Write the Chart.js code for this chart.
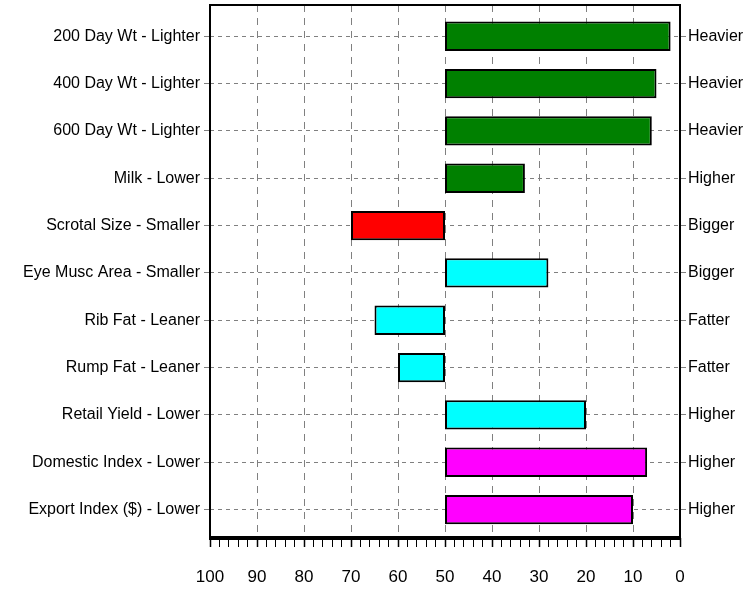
<!DOCTYPE html>
<html>
<head>
<meta charset="utf-8">
<script src="https://cdn.jsdelivr.net/npm/chart.js"></script>
<style>
  html, body { margin: 0; padding: 0; background: #fff; }
  #wrap { width: 753px; height: 593px; }
</style>
</head>
<body>
<div id="wrap"><canvas id="traits"></canvas></div>
<script>
// trait names (left side) and the "good" direction (right side)
const traitLabels = [
  '200 Day Wt - Lighter', '400 Day Wt - Lighter', '600 Day Wt - Lighter',
  'Milk - Lower', 'Scrotal Size - Smaller', 'Eye Musc Area - Smaller',
  'Rib Fat - Leaner', 'Rump Fat - Leaner', 'Retail Yield - Lower',
  'Domestic Index - Lower', 'Export Index ($) - Lower'
];
const directionLabels = [
  'Heavier', 'Heavier', 'Heavier', 'Higher', 'Bigger', 'Bigger',
  'Fatter', 'Fatter', 'Higher', 'Higher', 'Higher'
];
// percentile ranks; every bar starts at the breed average (50)
const barBase = 50;
const percentiles = [2, 5, 6, 33, 70, 28, 65, 60, 20, 7, 10];
const xTicks = [100, 90, 80, 70, 60, 50, 40, 30, 20, 10, 0];

const barColors = ['#008000', '#008000', '#008000', '#008000', '#ff0000',
  '#00ffff', '#00ffff', '#00ffff', '#00ffff', '#ff00ff', '#ff00ff'];

const FONT = { family: '"Liberation Sans Narrow", "Liberation Sans", Arial, sans-serif', size: 16 };

const rows = traitLabels.map((_, i) => ({ value: i }));
const noPad = s => { s.paddingTop = 0; s.paddingBottom = 0; };
const frame = {
  id: 'frame',
  afterDatasetsDraw(chart) {
    const { ctx, chartArea: a } = chart;
    ctx.save();
    ctx.strokeStyle = '#000';
    ctx.lineWidth = 2;
    ctx.strokeRect(a.left, a.top, a.right - a.left, a.bottom - a.top);
    ctx.lineWidth = 4;
    ctx.beginPath();
    ctx.moveTo(a.left - 1, a.bottom);
    ctx.lineTo(a.right + 1, a.bottom);
    ctx.stroke();
    ctx.restore();
  }
};

new Chart(document.getElementById('traits'), {
  type: 'bar',
  data: {
    datasets: [{
      data: percentiles.map((v, i) => ({ x: [barBase, v], y: i })),
      backgroundColor: barColors,
      borderColor: '#000',
      borderWidth: 2,
      borderSkipped: false,
      barPercentage: 0.62,
      categoryPercentage: 1
    }]
  },
  options: {
    indexAxis: 'y',
    responsive: true,
    maintainAspectRatio: false,
    animation: false,
    layout: { padding: { top: 5 } },
    plugins: { legend: { display: false }, tooltip: { enabled: false } },
    scales: {
      x: {
        type: 'linear',
        reverse: true,
        min: 0,
        max: 100,
        afterBuildTicks: s => { s.ticks = []; for (let v = 0; v <= 100; v += 2) s.ticks.push({ value: v }); },
        afterFit: s => { s.height = 55; },
        ticks: {
          autoSkip: false,
          color: '#000',
          font: { family: FONT.family, size: 17 },
          padding: 20,
          maxRotation: 0,
          callback: v => xTicks.includes(v) ? String(v) : ''
        },
        grid: {
          offset: false,
          color: c => (c.tick && c.tick.value % 10 === 0 && c.tick.value !== 0 && c.tick.value !== 100) ? '#808080' : 'rgba(0,0,0,0)',
          tickColor: '#000',
          tickWidth: c => (c.tick && c.tick.value % 10 === 0) ? 1.5 : 1,
          tickLength: 9
        },
        border: { display: false, dash: [7, 6] }
      },
      y: {
        type: 'linear',
        reverse: true,
        offset: false,
        min: -0.66,
        max: 10.6,
        afterBuildTicks: s => { s.ticks = rows.map(r => ({ value: r.value })); },
        afterFit: s => { s.width = 210; noPad(s); },
        ticks: { color: '#000', font: FONT, padding: 4, callback: v => traitLabels[v] },
        grid: { offset: false, color: '#808080', tickColor: '#808080', tickLength: 6 },
        border: { display: false, dash: [4, 4] }
      },
      yRight: {
        type: 'linear',
        position: 'right',
        reverse: true,
        offset: false,
        min: -0.66,
        max: 10.6,
        afterBuildTicks: s => { s.ticks = rows.map(r => ({ value: r.value })); },
        afterFit: s => { s.width = 73; noPad(s); },
        ticks: { color: '#000', font: FONT, padding: 2, callback: v => directionLabels[v] },
        grid: { offset: false, drawOnChartArea: false, color: '#808080', tickLength: 6 },
        border: { display: false }
      }
    }
  },
  plugins: [frame]
});
</script>
</body>
</html>
